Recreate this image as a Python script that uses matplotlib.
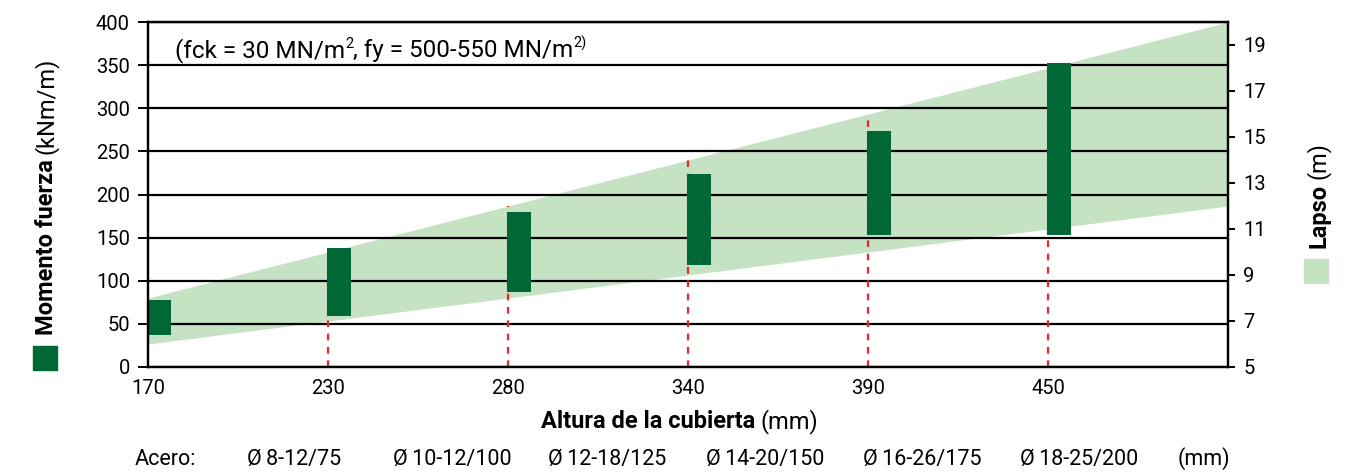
import matplotlib
matplotlib.use('Agg')
import matplotlib.pyplot as plt
import matplotlib.transforms as mtransforms
from matplotlib.patches import Rectangle
import numpy as np

plt.rcParams['font.family'] = ['Roboto', 'DejaVu Sans']

# ---- data ----
depths = ['170', '230', '280', '340', '390', '450']
moment_low = [37, 59, 87, 118, 153, 153]
moment_high = [78, 138, 180, 224, 274, 352]
span_min = [6, 12]      # Lapso band lower edge at left / right end
span_max = [8, 20]      # Lapso band upper edge at left / right end
steel = ['Ø\u20098-12/75', 'Ø\u200910-12/100', 'Ø\u200912-18/125', 'Ø\u200914-20/150',
         'Ø\u200916-26/175', 'Ø\u200918-25/200']
left_ticks = [0, 50, 100, 150, 200, 250, 300, 350, 400]
right_ticks = [5, 7, 9, 11, 13, 15, 17, 19]

DARK = '#006837'
LIGHT = '#c5e3c2'
RED = '#e8262e'
W, H = 1358, 475

fig = plt.figure(figsize=(W / 100, H / 100), dpi=100)
ax = fig.add_axes([148 / W, 1 - 367 / H, (1228 - 148) / W, (367 - 22) / H])
ax2 = ax.twinx()

x = np.arange(len(depths))
ax.set_xlim(0, len(depths))
ax.set_ylim(0, 400)
ax2.set_ylim(5, 20)

trans = mtransforms.blended_transform_factory(ax.transData, ax2.transData)
band_x = [0, len(depths)]
ax.fill_between(band_x, span_min, span_max, color=LIGHT, lw=0,
                transform=trans, zorder=0.3)

for i in x[1:]:
    top = np.interp(i, band_x, span_max)
    ax.plot([i, i], [5, top], transform=trans, color=RED, lw=1.6,
            ls=(0, (3, 3)), zorder=0.8, clip_on=False)

bw = 0.135
off = 0.006
ax.bar(x - off, np.array(moment_high) - np.array(moment_low),
       bottom=moment_low, width=bw, align='edge', color=DARK, zorder=2, lw=0)

ax.set_axisbelow(True)
ax.yaxis.grid(True, color='black', lw=1.6)
ax.set_yticks(left_ticks)
ax.set_xticks(x)
ax.set_xticklabels(depths)
ax.tick_params(axis='x', length=0, pad=9, labelsize=14.5)
ax.tick_params(axis='y', length=7, width=1.4, pad=6, labelsize=14.5)
ax2.set_yticks(right_ticks)
ax2.tick_params(axis='y', length=5, width=1.4, pad=6, labelsize=14.5)
for a in (ax, ax2):
    for s in a.spines.values():
        s.set_linewidth(1.6)
        s.set_color('black')

fig.canvas.draw()
renderer = fig.canvas.get_renderer()


def seq_text(xp, yp, parts, rotation=0, gap=0):
    """Place text pieces one after another; xp, yp in image pixels (baseline start).
    Each part: (string, props, raise_px)."""
    cx, cy = xp, H - yp
    for s, props, rise in parts:
        t = fig.text(cx, cy + rise, s, transform=None, rotation=rotation,
                     rotation_mode='anchor', ha='left', va='baseline', **props)
        bb = t.get_window_extent(renderer)
        if rotation == 90:
            cy += bb.height + gap
        else:
            cx += bb.width + gap
    return cx, cy


# annotation
afs = 17.5
sfs = 10.5
seq_text(175, 57, [('(fck = 30 MN/m', dict(fontsize=afs), 0),
                   ('2', dict(fontsize=sfs), 9),
                   (', fy = 500-550 MN/m', dict(fontsize=afs), 0),
                   ('2)', dict(fontsize=sfs), 9)])

# x label
seq_text(541, 428, [('Altura de la cubierta', dict(fontsize=17, fontweight='bold'), 0),
                    ('(mm)', dict(fontsize=17), 0)], gap=5)

# left label
seq_text(53, 335, [('Momento fuerza', dict(fontsize=17, fontweight='bold'), 0),
                   ('(kNm/m)', dict(fontsize=17), 0)], rotation=90, gap=5)
fig.patches.append(Rectangle((33, H - 370), 24, 24, transform=None,
                             color=DARK, figure=fig))

# right label
seq_text(1325, 248, [('Lapso', dict(fontsize=17, fontweight='bold'), 0),
                     ('(m)', dict(fontsize=17), 0)], rotation=90, gap=5)
fig.patches.append(Rectangle((1304, H - 283), 24, 24, transform=None,
                             color=LIGHT, figure=fig))

# steel row
fs = 15.5
fig.text(135, H - 465, 'Acero:', transform=None, fontsize=fs, ha='left', va='baseline')
steel_x = [247, 393, 548, 706, 863, 1020]
for sx, s in zip(steel_x, steel):
    fig.text(sx, H - 465, s, transform=None, fontsize=fs, ha='left', va='baseline')
fig.text(1178, H - 465, '(mm)', transform=None, fontsize=fs, ha='left', va='baseline')

fig.savefig('out.png', dpi=100)
